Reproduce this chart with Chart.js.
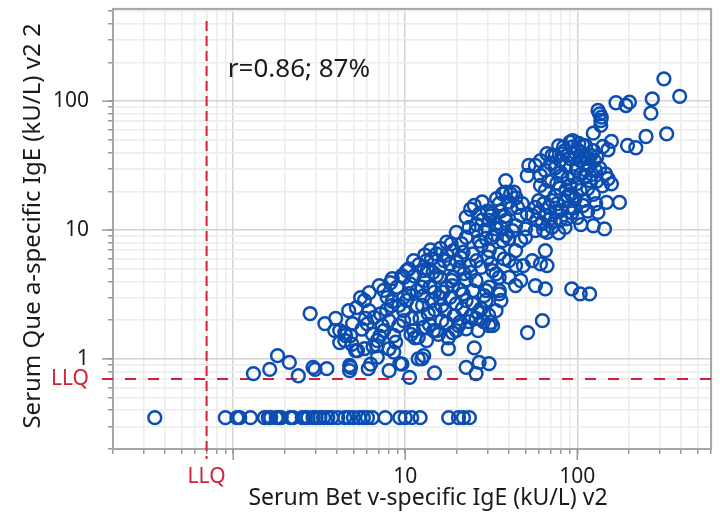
<!DOCTYPE html>
<html>
<head>
<meta charset="utf-8">
<script src="https://cdn.jsdelivr.net/npm/chart.js@4.4.1/dist/chart.umd.min.js"></script>
<style>
  html, body { margin: 0; padding: 0; background: #fff; }
  canvas { display: block; }
</style>
</head>
<body>
<canvas id="chart" width="720" height="515"></canvas>
<script>
// Bet v vs Que a specific IgE (kU/L)
const LLQ = 0.7;
const BELOW_LLQ = 0.35; // samples under the LLQ on Que a are shown at LLQ/2

// [Bet v, Que a] pairs above the Que a LLQ
const pairs = [
  [1.31,0.77],[1.63,0.83],[1.81,1.06],[2.12,0.94],[2.39,0.74],[2.91,0.86],[2.99,0.83],[3.5,0.84],
  [2.8,2.25],[3.41,1.88],[3.94,2.06],[4.16,1.66],[4.5,1.52],[4.69,2.37],[4.94,1.88],[4.16,1.34],
  [4.45,1.39],[5.28,1.16],[4.81,0.86],[4.75,0.81],[5.5,2.99],[5.88,2.06],[3.89,1.66],[4.81,1.52],
  [5.14,1.16],[4.75,0.89],[4.45,1.6],[6.18,3.27],[7.06,3.71],[6.1,0.84],[5.79,1.2],[6.88,1.27],
  [8.06,1.2],[8.06,0.81],[9.3,0.92],[10.6,0.72],[12.5,1.0],[12.8,1.06],[14.8,0.78],[17.8,1.2],
  [17.8,1.46],[20.4,1.81],[26.5,1.66],[14.6,1.66],[11.4,1.46],[22.6,0.86],[25.8,0.77],[26.9,0.94],
  [30.7,0.92],[25.2,1.22],[30.7,1.81],[31.5,1.92],[51.4,1.6],[62.7,1.98],
  [5.79,2.84],[6.16,2.37],[6.02,1.87],[6.44,1.56],[6.88,1.39],[7.51,1.66],[8.03,1.98],[8.58,1.52],
  [9.16,1.81],[9.79,2.37],[9.79,1.98],[10.2,2.84],[10.5,3.21],[11.2,1.66],[11.9,1.47],[12.8,1.76],
  [13.6,2.24],[14.2,2.84],[15.2,1.66],[16.3,1.98],[17,2.37],[18.2,3.0],[19.8,1.66],[20.7,1.92],
  [22.6,1.71],[24.2,2.17],[24.7,2.67],[28.8,3.1],[29.5,2.84],[32.2,1.81],[19.8,2.67],[21.7,3.2],
  [11.7,2.59],[7.18,2.24],[6.88,1.03],[6.29,0.91],[8.58,1.13],[9.57,0.91],[11.9,1.0],
  [36.8,19.1],[35.2,16],[25.2,15.5],[22.6,12.6],[27,13.4],[30.8,11.9],[33.7,10.2],[19.8,9.6],
  [22.6,8.79],[17.4,8.04],[19,6.93],[21.7,6.73],[24.7,6.53],[30.2,6.15],[37.6,5.97],[15.2,6.53],
  [14.2,5.97],[11.2,5.8],[10.5,5.0],[12.8,4.85],[15.9,5.14],[18.2,5.47],[20.7,5.14],[23.6,5.3],
  [27.6,5.14],[32.2,4.85],[35.2,4.3],[15.9,4.3],[19,4.3],[22.6,4.1],[25.8,4.06],[8.96,3.6],
  [10.7,3.82],[12.8,4.06],[13.9,3.6],[17.4,3.6],[20.7,3.45],[24.7,3.39],[29.5,3.39],[35.2,3.39],
  [12.8,3.1],[15.9,3.0],[7.85,3.0],[9.79,3.0],[10.2,4.85],
  [31.5,12.9],[33.7,11.2],[38.4,11.9],[42,9.91],[32.2,8.79],[36.8,8.29],[30.8,6.93],[35.2,6.53],
  [31.5,5.47],[40.1,5.8],[33.7,4.57],[40.1,4.3],[46.9,4.06],[30.8,3.6],[35.2,3.2],[41,19.1],
  [42.9,19.7],[47.9,16],[51.2,13.4],[57.1,15],[59.7,16.9],[63.8,16],[68.1,15],[71.3,16.9],
  [76.2,16],[81.3,14.2],[86.9,12.2],[61.1,22.2],[65.2,20.3],[51.2,26.5],[54.7,13],[62.4,11.2],
  [71.3,10.5],[66.7,9.6],[50,10.2],[50,8.79],[63.8,9.91],[65.2,6.93],[54.7,5.8],[61.1,5.47],
  [66.7,5.3],[57.1,3.71],[65.2,3.5],[92.9,3.5],[104,3.2],[118,3.2],[97,17.5],[124,18.9],
  [132,13.7],[148,16.4],[176,16.4],[124,10.8],[144,10.2],[151,25],[158,22.8],[111,25.7],
  [81.3,26.5],[38.4,24.2],
  [52.3,31.7],[66.7,39.1],[71.3,37.9],[61.1,26.5],[38.4,19.7],
  [319,149],[394,109],[273,104],[268,80.7],[168,97.2],[192,92.6],[201,98.2],[132,84.7],
  [135,79.8],[138,75.2],[137,70.8],[137,64.8],[124,56.5],[251,53.2],[331,55.8],[196,45.3],
  [219,43.5],[158,48.7],[141,44.5],[151,42],[108,45.3],[90.8,48.1],[83.2,43.9],[146,27.3],
  [74.4,37.9],[79.4,34.6],[84.9,41.4],[90.8,35.9],[97,40],[104,34.6],[111,37.9],[118,31.7],
  [86,31.7],[99,30.2],[113,29],[74.4,30.2],[65.2,29],[57.1,31.7],[61.1,34.6],[126,34.6],
  [135,30.2],[124,41.4],[94,49.5],
  [90.8,22.2],[104,20.3],[79.4,21.1],[118,24.2],[74.4,18.5],[84.9,16.9],[108,15.5],[93,13.6],
  [74.4,11.9],[57.1,9.91],[46.9,8.29],[43.8,6.93],[48.6,5.3],[43.8,3.71],
  [8.31,2.59],[7.35,1.81],[10.9,2.06],[13.3,1.39],[16.3,2.59],[19.3,2.17],[25.8,2.06],[22.6,2.84],
  [27.6,2.45],[33.7,2.37],[36,2.84],[18.6,4.06],[15.2,4.43],[11.7,3.39],[8.4,4.2],[9.57,4.43],
  [13.3,5.8],[21.2,7.84],[27.6,7.58],[25.8,9.91],[29.5,8.6],[38.4,9.06],[43.8,10.8],[46.9,13],
  [41,14.7],[43.8,5.3],
  // denser core
  [24,14.5],[28,16.5],[30,14],[26,11],[29,10],[32,13.5],[34,17.5],[36,14],[38,12.8],[40,16.5],
  [44,17.8],[45,15],[28,12],[33,9.2],[36,10.5],[40,8.6],[23.5,10.5],[27,8.2],
  [58,12],[60,13.8],[66,13],[70,12.3],[75,13.8],[80,12],[85,10.5],[90,15],[95,14.8],[100,12.5],
  [105,11],[110,17],[115,14],[128,16],[78,9.5],[88,18.4],
  [78,45],[82,39],[88,38],[93,44],[97,36],[100,42],[106,40],[110,33],[115,36],[120,38],
  [122,27],[128,29],[130,24],[140,22],[115,21],[100,23],[95,26],[88,25],[80,28],[105,27],
  [112,45],[102,47],[130,37],[70,33],[68,24],[76,23],[92,19],[86,20.5],
  [7.5,3.4],[8.2,3.9],[9.8,4.3],[11.3,4.4],[12,5.4],[13.5,5.0],[14.5,4.7],[16.8,5.8],[17.5,6.4],
  [19.8,5.8],[21,6.1],[12.5,3.6],[14.8,3.3],[16.6,3.3],[18.8,3.7],[22,4.6],[24,4.7],[26,5.8],
  [16,7.2],[18.5,7.8],[14,7.0],[13,6.4],
  [5.2,2.5],[6.6,2.1],[7.1,1.5],[7.8,2.4],[8.4,2.8],[5.6,1.7],[4.9,1.3],[6.5,1.25],[9.2,2.6],
  [8.8,1.35],
  [10.8,1.55],[12.2,2.05],[13.8,1.85],[15.6,1.55],[17.4,1.9],[18.8,1.6],[21.5,2.45],[23.4,1.95],
  [26.5,2.3],[28.5,1.95],[30.5,2.2],[14.9,2.4],[12.6,2.6]
];

// Bet v values of samples with Que a under the LLQ
const betVBelowLLQ = [
  0.35, 0.9, 1.05, 1.09, 1.26, 1.52, 1.6, 1.65, 1.78, 1.85, 1.9, 2.15, 2.23, 2.52, 2.62, 2.72,
  2.91, 3.03, 3.19, 3.35, 3.55, 3.74, 4.05, 4.45, 4.69, 5.0, 5.4, 5.71, 6.03, 6.44, 7.65, 9.3,
  10, 10.9, 12.2, 17.9, 20.4, 21.8, 23.6
];

const xTicks = [0.2,0.3,0.4,0.5,0.6,0.7,0.8,0.9,1,2,3,4,5,6,7,8,9,10,20,30,40,50,60,70,80,90,100,200,300,400,500,600];
const yTicks = [0.2,0.3,0.4,0.5,0.6,0.7,0.8,0.9,1,2,3,4,5,6,7,8,9,10,20,30,40,50,60,70,80,90,100,200,300,400,500];
const majorTicks = [1, 10, 100];
const xLabelled = [10, 100];
const yLabelled = [1, 10, 100];

const xTitle = 'Serum Bet v-specific IgE (kU/L) v2';
const yTitle = 'Serum Que a-specific IgE (kU/L) v2 2';
const annotation = 'r=0.86; 87%';

const TEXT = '#1a1a1a';
const RED = '#d4213a';
const BLUE = '#0b4db0';
const FONT = "'Noto Sans', 'Open Sans', sans-serif";

Chart.defaults.font.family = FONT;

function isMajor(v) { return majorTicks.includes(v); }

function labeller(shown) {
  return v => {
    if (v === LLQ) return 'LLQ';
    if (shown.includes(v)) return String(v);
    return '';
  };
}

// frame, LLQ reference lines, longer major tick marks, titles
const decorations = {
  id: 'decorations',
  beforeDatasetsDraw(chart) {
    const { ctx, chartArea: a, scales: { x, y } } = chart;
    ctx.save();
    ctx.strokeStyle = '#a6a6a6';
    ctx.lineWidth = 2;
    ctx.strokeRect(a.left, a.top, a.right - a.left, a.bottom - a.top);

    ctx.strokeStyle = '#9a9a9a';
    ctx.lineWidth = 1.5;
    majorTicks.forEach(v => {
      const px = x.getPixelForValue(v);
      ctx.beginPath(); ctx.moveTo(px, a.bottom); ctx.lineTo(px, a.bottom + 11); ctx.stroke();
      const py = y.getPixelForValue(v);
      ctx.beginPath(); ctx.moveTo(a.left - 11, py); ctx.lineTo(a.left, py); ctx.stroke();
    });

    ctx.strokeStyle = RED;
    ctx.lineWidth = 2;
    const lx = x.getPixelForValue(LLQ);
    ctx.setLineDash([10, 5]);
    ctx.beginPath(); ctx.moveTo(lx, a.top + 12); ctx.lineTo(lx, a.bottom + 10); ctx.stroke();
    const ly = y.getPixelForValue(LLQ);
    ctx.setLineDash([11, 12]);
    ctx.beginPath(); ctx.moveTo(a.left - 11, ly); ctx.lineTo(a.right, ly); ctx.stroke();
    ctx.restore();
  },
  afterDraw(chart) {
    const { ctx, chartArea: a, scales: { x, y } } = chart;
    ctx.save();
    ctx.fillStyle = TEXT;
    ctx.font = '26px ' + FONT;
    ctx.textBaseline = 'middle';
    ctx.textAlign = 'left';
    ctx.fillText(annotation, x.getPixelForValue(0.93), y.getPixelForValue(175));

    ctx.font = '23px ' + FONT;
    ctx.textAlign = 'center';
    ctx.fillText(xTitle, 428, 498);
    ctx.translate(33, (a.top + a.bottom) / 2 - 3);
    ctx.rotate(-Math.PI / 2);
    ctx.font = '24px ' + FONT;
    ctx.fillText(yTitle, 0, 0);
    ctx.restore();
  }
};

function axis(ticksList, shown, min, max, pad) {
  return {
    type: 'logarithmic',
    min: min,
    max: max,
    afterBuildTicks: s => { s.ticks = ticksList.map(v => ({ value: v })); },
    border: { display: false },
    grid: {
      color: c => (c.tick && isMajor(c.tick.value)) ? '#d2d2d2' : '#ececec',
      lineWidth: 1.5,
      tickLength: 5,
      tickColor: '#9a9a9a',
      tickWidth: 1.5
    },
    ticks: {
      autoSkip: false,
      maxRotation: 0,
      padding: pad,
      font: { size: 21 },
      color: c => (c.tick && c.tick.value === LLQ) ? RED : TEXT,
      callback: labeller(shown)
    }
  };
}

function noPadding(s) {
  s.paddingTop = 0; s.paddingBottom = 0; s.paddingLeft = 0; s.paddingRight = 0;
}

const xScale = axis(xTicks, xLabelled, 0.2, 600, 10);
xScale.afterFit = s => { s.height = 66; noPadding(s); };
const yScale = axis(yTicks, yLabelled, 0.2, 520, 19);
yScale.afterFit = s => { s.width = 113; noPadding(s); };

new Chart(document.getElementById('chart'), {
  type: 'scatter',
  data: {
    datasets: [{
      data: pairs.map(p => ({ x: p[0], y: p[1] }))
        .concat(betVBelowLLQ.map(v => ({ x: v, y: BELOW_LLQ }))),
      backgroundColor: 'rgba(0,0,0,0)',
      borderColor: BLUE,
      borderWidth: 2.5,
      pointRadius: 6.4
    }]
  },
  options: {
    responsive: false,
    animation: false,
    events: [],
    layout: { padding: { top: 7, right: 2, left: 0, bottom: 0 } },
    plugins: { legend: { display: false }, tooltip: { enabled: false } },
    scales: { x: xScale, y: yScale }
  },
  plugins: [decorations]
});
</script>
</body>
</html>
